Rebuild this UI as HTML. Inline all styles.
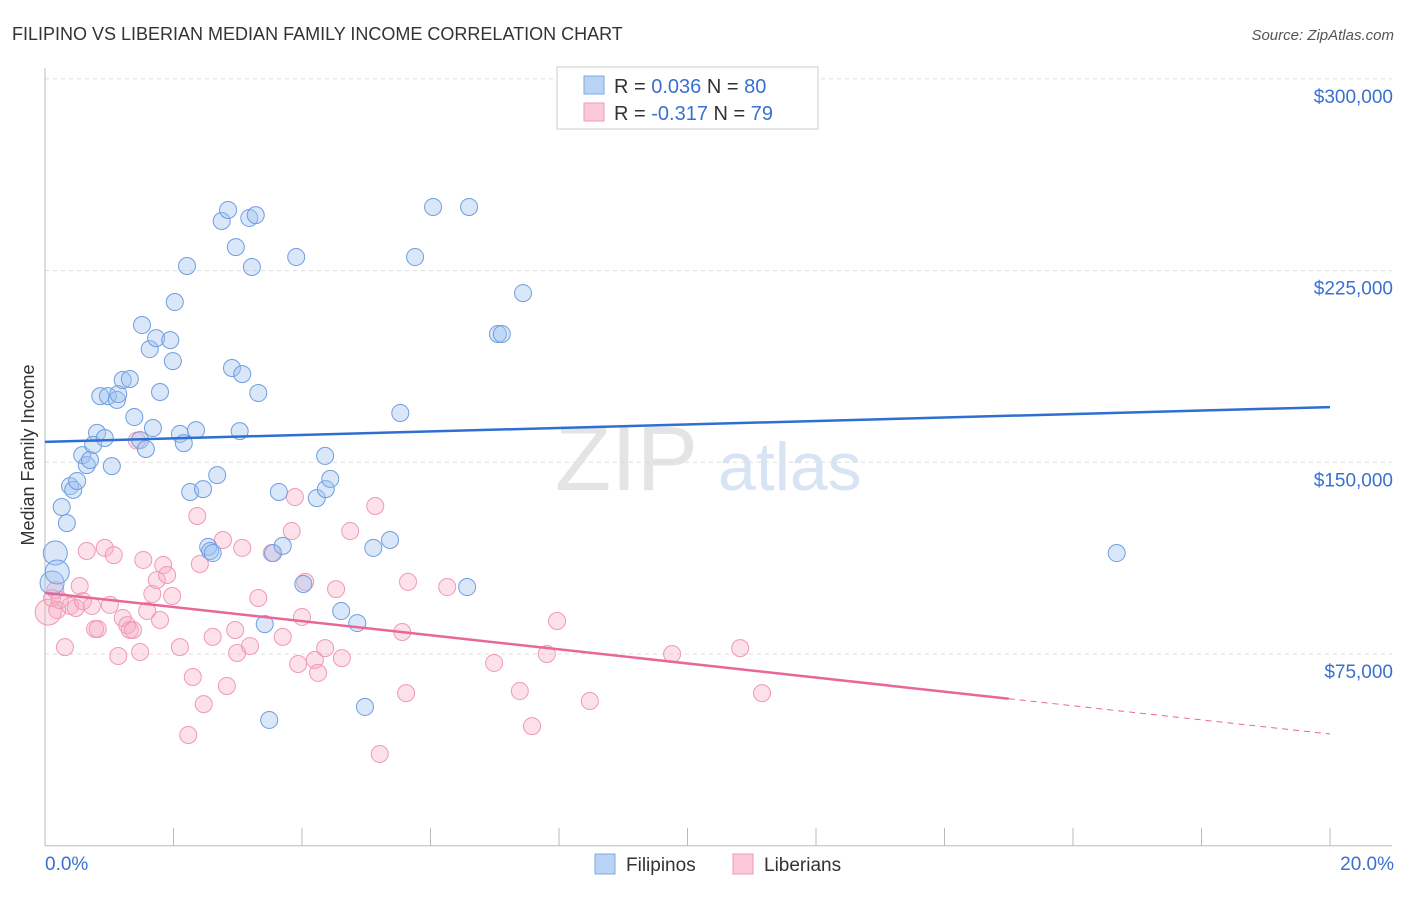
<!DOCTYPE html>
<html><head><meta charset="utf-8"><style>
body{margin:0;background:#fff;font-family:"Liberation Sans",sans-serif;}
svg text{font-family:"Liberation Sans",sans-serif;}
</style></head><body>
<svg id="chart" width="1406" height="892" xmlns="http://www.w3.org/2000/svg">
<text x="12" y="40" font-size="18" fill="#333">FILIPINO VS LIBERIAN MEDIAN FAMILY INCOME CORRELATION CHART</text>
<text x="1394" y="40" font-size="15" fill="#555" text-anchor="end" font-style="italic">Source: ZipAtlas.com</text>
<text x="555" y="490" font-size="92" fill="#e4e4e4" font-family="Liberation Serif">ZIP</text>
<text x="718" y="490" font-size="68" fill="#d8e4f4">atlas</text>
<g id="grid"></g><g id="axes"></g><g id="pts"></g><g id="trend"></g>
<text transform="translate(34,455) rotate(-90)" font-size="18" fill="#333" text-anchor="middle">Median Family Income</text>
<g>
<rect x="557" y="67" width="261" height="62" fill="#fff" stroke="#ccc"/>
<rect x="584" y="76" width="20" height="18" fill="#b9d3f5" stroke="#7fa8e0"/>
<rect x="584" y="103" width="20" height="18" fill="#fbc9d8" stroke="#ef9ab5"/>
<text x="614" y="93" font-size="20" fill="#333">R = <tspan fill="#3a70d0"> 0.036</tspan>   N = <tspan fill="#3a70d0">80</tspan></text>
<text x="614" y="120" font-size="20" fill="#333">R = <tspan fill="#3a70d0">-0.317</tspan>   N = <tspan fill="#3a70d0">79</tspan></text>
</g>
<g>
<rect x="595" y="854" width="20" height="20" fill="#b9d3f5" stroke="#7fa8e0"/>
<text x="626" y="871" font-size="19" fill="#333">Filipinos</text>
<rect x="733" y="854" width="20" height="20" fill="#fbc9d8" stroke="#ef9ab5"/>
<text x="764" y="871" font-size="19" fill="#333">Liberians</text>
</g>
</svg>
<script>
const yTicks=[75000,150000,225000,300000];
const yTickLabels=["$75,000","$150,000","$225,000","$300,000"];
const xTickLabels=["0.0%","20.0%"];
const blueX=[.11,.16,.19,.26,.34,.39,.44,.50,.58,.65,.70,.81,.75,.86,.93,.98,1.04,1.12,1.14,1.21,1.32,1.39,1.48,1.51,1.57,1.63,1.68,1.73,1.79,1.95,1.99,2.02,2.10,2.16,2.21,2.26,2.35,2.46,2.54,2.57,2.61,2.68,2.75,2.85,2.91,2.97,3.03,3.07,3.18,3.22,3.28,3.32,3.42,3.49,3.55,3.64,3.70,3.91,4.02,4.23,4.36,4.37,4.44,4.61,4.86,4.98,5.11,5.37,5.53,5.76,6.04,6.57,6.60,7.05,7.11,7.44,16.68];
const blueY=[102.8,114.5,107.1,132.5,126.2,140.7,139.2,142.7,152.8,148.9,150.9,161.5,156.8,175.9,159.5,175.9,148.5,174.4,176.7,182.2,182.6,167.7,158.7,203.7,155.2,194.3,163.4,198.6,177.5,197.8,189.6,212.7,161.1,157.5,226.8,138.4,162.6,139.5,116.9,115.3,114.5,145.0,244.4,248.7,186.9,234.2,162.2,184.5,245.6,226.4,246.7,177.1,86.7,49.2,114.5,138.4,117.3,230.3,102.4,136.0,152.5,139.5,143.5,91.8,87.1,54.3,116.5,119.6,169.3,230.3,249.9,101.2,249.9,200.2,200.2,216.2,114.5];
const pinkX=[.05,.11,.16,.19,.23,.31,.39,.48,.54,.59,.65,.73,.78,.82,.93,1.01,1.07,1.14,1.21,1.28,1.32,1.37,1.48,1.53,1.59,1.67,1.74,1.79,1.84,1.90,1.98,2.10,2.23,2.30,2.37,2.41,2.47,2.61,2.77,2.83,2.96,2.99,3.07,3.19,3.32,3.53,3.70,3.84,3.89,3.94,4.00,4.05,4.20,4.25,4.36,4.53,4.62,4.75,5.14,5.21,5.56,5.62,5.65,6.26,6.99,7.39,7.58,7.81,7.97,8.48,9.76,10.82,11.16,1.43];
const pinkY=[91.4,96.9,100.0,92.2,96.1,77.7,93.8,93.0,101.6,95.7,115.3,93.8,84.8,84.8,116.5,94.2,113.7,74.2,89.1,86.3,84.4,84.4,75.8,111.8,91.8,98.5,103.9,88.3,109.8,105.9,97.7,77.7,43.3,66.0,129.0,110.2,55.4,81.7,119.6,62.5,84.4,75.4,116.5,78.1,96.9,114.5,81.7,123.1,136.4,71.1,89.5,103.2,72.7,67.6,77.3,100.4,73.4,123.1,132.9,35.9,83.6,59.7,103.2,101.2,71.5,60.5,46.8,75.0,87.9,56.6,75.0,77.3,59.7,158.5];
const blueTrend=[158.0,171.6];
const pinkTrend=[98.9,43.7];
const NS="http://www.w3.org/2000/svg";
const X0=45,X1=1330,YB=845.7,PPK=2.556;
const sx=p=>X0+(X1-X0)*p/20;
const sy=v=>YB-v/1000*PPK;
const syk=k=>YB-k*PPK;
function mk(tag,attrs,parent){const e=document.createElementNS(NS,tag);for(const k in attrs)e.setAttribute(k,attrs[k]);document.getElementById(parent).appendChild(e);return e;}
yTicks.forEach((t,i)=>{
 const l=mk('line',{x1:X0,x2:1392,y1:sy(t),y2:sy(t),stroke:'#ddd','stroke-dasharray':'4,4'},'grid');
 
 
 const tx=mk('text',{x:1393,y:sy(t)+24,'font-size':19,fill:'#3a70d0','text-anchor':'end'},'axes');
 tx.textContent=yTickLabels[i];
 
 
});
const ax=mk('line',{x1:X0,x2:X0,y1:68,y2:YB,stroke:'#bbb'},'axes');


const bx=mk('line',{x1:X0,x2:1392,y1:YB,y2:YB,stroke:'#bbb'},'axes');


for(let i=0;i<=10;i++){
 const t=mk('line',{x1:sx(i*2),x2:sx(i*2),y1:YB,y2:YB-18,stroke:'#bbb'},'axes');
 
 
}
[[0,'start',45],[1,'end',1394]].forEach(([i,a,x])=>{
 const t=mk('text',{x:x,y:870,'font-size':19,fill:'#3a70d0','text-anchor':a},'axes');
 t.textContent=xTickLabels[i];
 
 
});
pinkX.forEach((x,i)=>{
 const c=mk('circle',{cx:sx(x),cy:syk(pinkY[i]),r:i==0?13:8.5,fill:'rgba(247,170,195,0.35)',stroke:'#ef9ab5','stroke-width':1},'pts');
 
 
});
blueX.forEach((x,i)=>{
 const c=mk('circle',{cx:sx(x),cy:syk(blueY[i]),r:i<3?12:8.5,fill:'rgba(160,195,240,0.4)',stroke:'#6f9ee0','stroke-width':1},'pts');
 
 
});
const bl=mk('line',{x1:sx(0),y1:syk(blueTrend[0]),x2:sx(20),y2:syk(blueTrend[1]),stroke:'#2f6fd1','stroke-width':2.5},'trend');


const pm=p=>pinkTrend[0]+(pinkTrend[1]-pinkTrend[0])*p/20;
const pl=mk('line',{x1:sx(0),y1:syk(pm(0)),x2:sx(15),y2:syk(pm(15)),stroke:'#e8679a','stroke-width':2.5},'trend');


const pd=mk('line',{x1:sx(15),y1:syk(pm(15)),x2:sx(20),y2:syk(pm(20)),stroke:'#e8679a','stroke-width':1,'stroke-dasharray':'6,5'},'trend');


</script>
</body></html>
